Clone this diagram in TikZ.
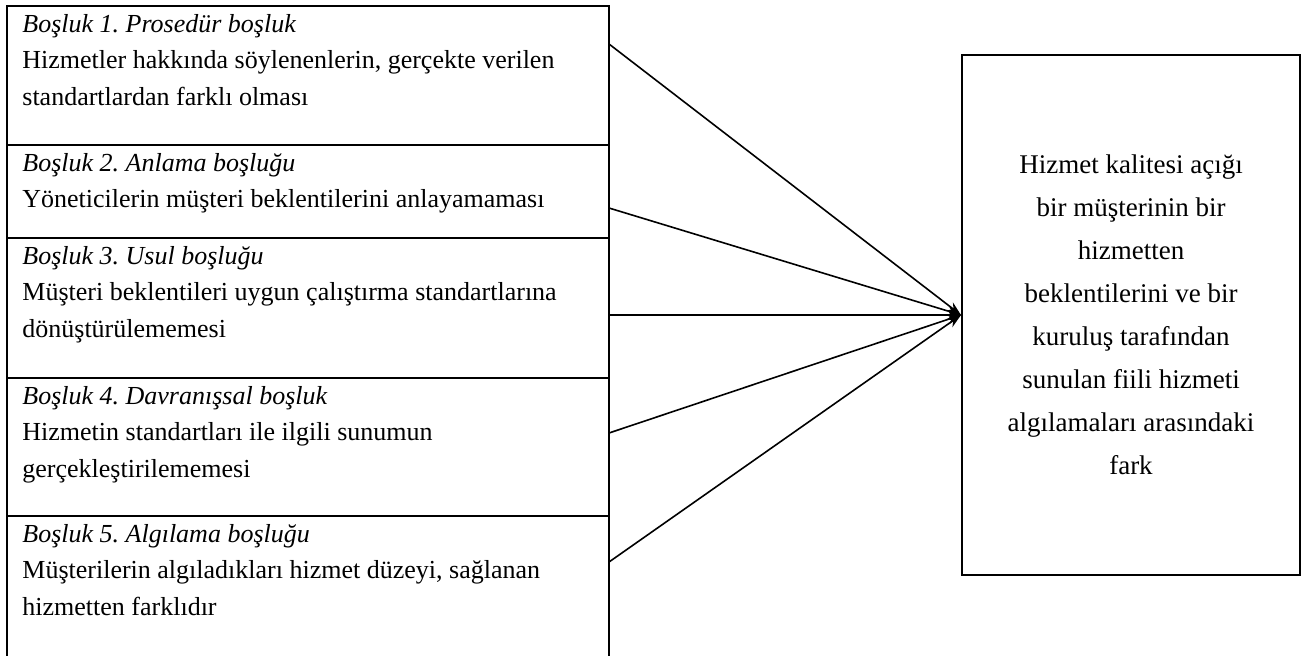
\documentclass[tikz,border=0pt]{standalone}
\usepackage{fontspec}
\setmainfont{Liberation Serif}
\frenchspacing
\usetikzlibrary{arrows.meta,positioning}

\begin{document}
\begin{tikzpicture}[
  >=Stealth,
  gapbox/.style={draw=black, line width=1pt, minimum width=301pt, inner sep=0pt, outer sep=0pt, anchor=north west},
  gaptext/.style={anchor=north west, inner sep=0pt, align=left, font=\fontsize{13}{18.25}\selectfont},
  goalbox/.style={draw=black, line width=1pt, minimum width=169pt, minimum height=260pt, inner sep=0pt, align=center, font=\fontsize{13.5}{21.5}\selectfont},
  arrow/.style={-{Stealth[length=7pt,width=5pt]}, line width=0.8pt, black}
]
\useasboundingbox (0,0) rectangle (656pt,-327.5pt);

\node[gapbox, minimum height=69.5pt] (gap1) at (3.5pt,-3pt) {};
\node[gapbox, minimum height=46.5pt, below=0pt of gap1] (gap2) {};
\node[gapbox, minimum height=70pt, below=0pt of gap2] (gap3) {};
\node[gapbox, minimum height=69pt, below=0pt of gap3] (gap4) {};
\node[gapbox, minimum height=72pt, below=0pt of gap4] (gap5) {};

\node[gaptext] (txt1) at ([xshift=7.5pt,yshift=-4pt]gap1.north west) {\textit{Boşluk 1. Prosedür boşluk}\\Hizmetler hakkında söylenenlerin, gerçekte verilen\\standartlardan farklı olması};
\node[gaptext] (txt2) at ([xshift=7.5pt,yshift=-4pt]gap2.north west) {\textit{Boşluk 2. Anlama boşluğu}\\Yöneticilerin müşteri beklentilerini anlayamaması};
\node[gaptext] (txt3) at ([xshift=7.5pt,yshift=-4pt]gap3.north west) {\textit{Boşluk 3. Usul boşluğu}\\Müşteri beklentileri uygun çalıştırma standartlarına\\dönüştürülememesi};
\node[gaptext] (txt4) at ([xshift=7.5pt,yshift=-4pt]gap4.north west) {\textit{Boşluk 4. Davranışsal boşluk}\\Hizmetin standartları ile ilgili sunumun\\gerçekleştirilememesi};
\node[gaptext] (txt5) at ([xshift=7.5pt,yshift=-4pt]gap5.north west) {\textit{Boşluk 5. Algılama boşluğu}\\Müşterilerin algıladıkları hizmet düzeyi, sağlanan\\hizmetten farklıdır};

\node[goalbox] (goal) at (565.5pt,-157.5pt) {Hizmet kalitesi açığı\\ bir müşterinin bir\\hizmetten\\beklentilerini ve bir\\kuruluş tarafından\\sunulan fiili hizmeti\\algılamaları arasındaki\\fark};

\draw[arrow] ([yshift=-19pt]gap1.north east) -- (goal.west);
\draw[arrow] ([yshift=-31.5pt]gap2.north east) -- (goal.west);
\draw[arrow] ([yshift=-38.5pt]gap3.north east) -- (goal.west);
\draw[arrow] ([yshift=-27.5pt]gap4.north east) -- (goal.west);
\draw[arrow] ([yshift=-23pt]gap5.north east) -- (goal.west);

\end{tikzpicture}
\end{document}
